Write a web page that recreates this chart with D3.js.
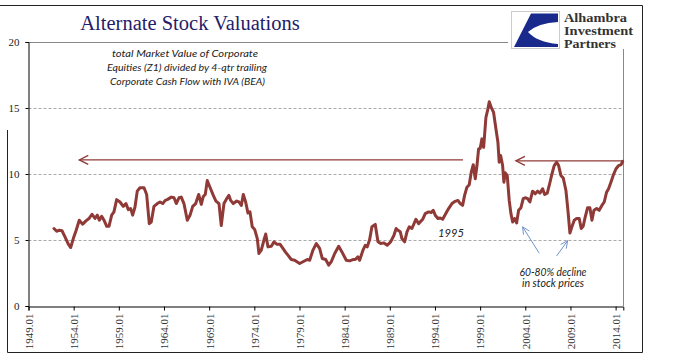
<!DOCTYPE html>
<html>
<head>
<meta charset="utf-8">
<script src="https://cdn.jsdelivr.net/npm/d3@7"></script>
<style>
  html, body { margin: 0; padding: 0; background: #fff; }
  svg { display: block; }
</style>
</head>
<body>
<div id="chart"></div>
<script>
// ---- data ----
const dates = [1951.82,1952.12,1952.41,1952.71,1953.04,1953.41,1953.67,1953.96,1954.26,1954.62,1955.0,1955.36,1955.73,1956.03,1956.36,1956.62,1956.84,1957.10,1957.36,1957.66,1957.91,1958.21,1958.46,1958.76,1959.13,1959.49,1959.79,1960.05,1960.31,1960.53,1960.79,1961.04,1961.34,1961.79,1962.08,1962.37,1962.59,1962.89,1963.26,1963.56,1963.86,1964.14,1964.36,1964.81,1965.11,1965.36,1965.66,1965.91,1966.21,1966.58,1966.88,1967.18,1967.51,1967.84,1968.13,1968.35,1968.57,1968.79,1969.09,1969.46,1969.75,1970.09,1970.34,1970.64,1970.94,1971.19,1971.38,1971.67,1972.05,1972.30,1972.56,1972.78,1973.04,1973.30,1973.52,1973.77,1974.04,1974.33,1974.51,1974.77,1975.07,1975.26,1975.51,1975.88,1976.18,1976.47,1976.84,1977.17,1977.43,1977.72,1978.09,1978.47,1978.72,1979.02,1979.39,1979.86,1980.13,1980.49,1980.86,1981.23,1981.52,1981.90,1982.23,1982.52,1982.90,1983.34,1983.70,1984.18,1984.55,1984.92,1985.18,1985.47,1985.66,1986.03,1986.28,1986.50,1986.77,1987.02,1987.39,1987.69,1987.99,1988.35,1988.72,1989.09,1989.46,1989.70,1989.90,1990.16,1990.34,1990.64,1990.90,1991.15,1991.45,1991.89,1992.19,1992.64,1992.92,1993.30,1993.59,1993.81,1994.03,1994.33,1994.58,1994.85,1995.14,1995.51,1995.88,1996.24,1996.54,1996.80,1997.06,1997.28,1997.54,1997.79,1998.02,1998.24,1998.46,1998.65,1998.83,1999.01,1999.20,1999.39,1999.64,1999.86,2000.01,2000.23,2000.49,2000.75,2000.97,2001.11,2001.27,2001.49,2001.63,2001.78,2002.0,2002.22,2002.41,2002.60,2002.82,2003.04,2003.26,2003.52,2003.77,2003.99,2004.26,2004.51,2004.81,2005.10,2005.36,2005.62,2005.92,2006.14,2006.43,2006.65,2006.95,2007.20,2007.47,2007.69,2007.94,2008.20,2008.50,2008.72,2008.94,2009.16,2009.42,2009.68,2009.97,2010.19,2010.41,2010.63,2010.90,2011.15,2011.38,2011.60,2011.90,2012.18,2012.48,2012.74,2013.0,2013.22,2013.48,2013.73,2014.03,2014.33,2014.62,2014.78];
const values = [5.87,5.66,5.74,5.70,5.24,4.68,4.43,5.11,5.70,6.50,6.20,6.45,6.65,6.95,6.63,6.88,6.50,6.80,6.50,6.04,6.04,6.88,7.13,8.06,7.88,7.55,7.76,7.30,7.38,6.88,7.50,8.70,8.96,8.96,8.45,6.24,6.36,7.55,7.76,7.88,7.76,8.00,8.06,8.25,8.20,7.76,8.20,8.25,7.76,6.50,6.87,7.55,7.76,8.45,7.70,8.30,8.45,9.50,9.00,8.38,7.95,7.76,6.10,7.76,8.13,8.38,8.00,7.76,7.95,7.88,7.62,8.45,7.88,7.04,7.13,6.00,5.80,5.11,3.98,4.23,5.00,5.45,4.48,4.53,4.86,4.68,4.68,4.36,4.10,3.85,3.52,3.47,3.35,3.22,3.35,3.52,3.47,4.23,4.73,4.36,3.60,3.52,3.10,3.35,3.98,4.53,4.10,3.47,3.42,3.52,3.52,3.72,3.47,4.23,4.60,4.48,5.04,6.00,6.18,4.86,4.73,4.78,4.60,4.86,5.36,5.87,5.74,5.62,5.11,4.86,5.62,6.00,5.87,6.57,6.24,6.57,7.00,7.13,7.08,7.25,6.88,6.63,6.67,6.57,6.93,7.38,7.76,7.93,8.00,7.76,7.62,8.38,9.00,9.18,10.14,10.70,9.64,10.64,11.90,11.95,12.66,12.02,14.28,14.92,15.47,15.04,14.66,13.41,12.40,10.89,11.40,10.64,9.38,10.09,9.89,8.00,7.00,6.36,6.62,6.29,7.25,7.45,8.13,8.20,8.13,7.88,8.70,8.50,8.70,8.55,8.88,8.45,8.55,9.13,10.00,10.64,10.89,10.64,9.89,9.70,8.75,7.25,5.53,6.00,6.50,6.62,6.62,5.87,6.04,6.74,7.45,7.45,6.50,7.25,7.38,7.25,7.62,7.88,8.62,8.88,9.38,9.89,10.38,10.64,10.72,10.96];
const tickYears = [1949,1954,1959,1964,1969,1974,1979,1984,1989,1994,1999,2004,2009,2014];
const tickLabels = ["1949.01","1954.01","1959.01","1964.01","1969.01","1974.01","1979.01","1984.01","1989.01","1994.01","1999.01","2004.01","2009.01","2014.01"];
const yTicks = [0,5,10,15,20];
const titleText = "Alternate Stock Valuations";
const noteLines = ["total Market Value of Corporate","Equities (Z1) divided by 4-qtr trailing","Corporate Cash Flow with IVA (BEA)"];
const logoLines = ["Alhambra","Investment","Partners"];
const declineLines = ["60-80% decline","in stock prices"];
const yearNote = "1995";

// ---- layout ----
const W = 675, H = 358;
const svg = d3.select("#chart").append("svg").attr("width", W).attr("height", H);

const x = d3.scaleLinear().domain([1949, 2014.85]).range([28.5, 623.3]);
const y = d3.scaleLinear().domain([0, 20]).range([306, 42]);

const RED = "#8f3a37";
const BLUE = "#7193c9";

// outer frame
const frame = svg.append("g").attr("stroke", "#222").attr("stroke-width", 1).attr("fill", "none");
frame.append("path").attr("d", "M0,5.5 H642.5 V352.5 H7.5 V130");

// gridlines
svg.append("g").selectAll("line").data(yTicks.filter(d => d > 0 && d < 20)).join("line")
  .attr("x1", x.range()[0]).attr("x2", x.range()[1])
  .attr("y1", d => Math.round(y(d)) + 0.5).attr("y2", d => Math.round(y(d)) + 0.5)
  .attr("stroke", "#aaa").attr("stroke-dasharray", "3,2").attr("stroke-width", 1);
// top solid line (20) and right border
svg.append("line").attr("x1", x.range()[0]).attr("x2", x.range()[1])
  .attr("y1", Math.round(y(20)) + 0.5).attr("y2", Math.round(y(20)) + 0.5).attr("stroke", "#888");
svg.append("line").attr("x1", 623.5).attr("x2", 623.5)
  .attr("y1", y(20)).attr("y2", y(0)).attr("stroke", "#888");

// y axis
const yAxis = d3.axisLeft(y).tickValues(yTicks).tickSize(3).tickFormat(d3.format("d"));
const ya = svg.append("g").attr("transform", "translate(28.5,0)").call(yAxis);
ya.select(".domain").attr("stroke", "#000");
ya.selectAll(".tick line").attr("stroke", "#000");
ya.selectAll("text").attr("font-family", "'Liberation Serif', serif").attr("font-size", 11)
  .attr("fill", "#222").attr("x", -9);

// x axis
const xAxis = d3.axisBottom(x).tickValues(tickYears).tickSize(4).tickFormat((d, i) => tickLabels[i]);
const xa = svg.append("g").attr("transform", "translate(0,306.5)").call(xAxis);
xa.select(".domain").attr("stroke", "#000");
xa.selectAll(".tick line").attr("stroke", "#000");
xa.selectAll("text")
  .attr("font-family", "'Liberation Serif', serif").attr("font-size", 11).attr("fill", "#333")
  .attr("transform", "rotate(-90)")
  .attr("text-anchor", "end")
  .attr("x", -7).attr("y", 0).attr("dy", "0.35em");

// data line
const line = d3.line().x((d, i) => x(dates[i])).y(d => y(d)).curve(d3.curveLinear);
svg.append("path").datum(values).attr("d", line)
  .attr("fill", "none").attr("stroke", RED).attr("stroke-width", 3)
  .attr("stroke-linejoin", "round").attr("stroke-linecap", "round");

// red arrows
function openArrow(g, x1, x2, yy, color) {
  g.append("line").attr("x1", x1).attr("x2", x2).attr("y1", yy).attr("y2", yy)
    .attr("stroke", color).attr("stroke-width", 1.3);
  g.append("path").attr("d", `M${x1 + 9},${yy - 4.5} L${x1},${yy} L${x1 + 9},${yy + 4.5}`)
    .attr("fill", "none").attr("stroke", color).attr("stroke-width", 1.3);
}
const ann = svg.append("g");
openArrow(ann, x(1954.62), x(1997.1), y(11.07), RED);
openArrow(ann, x(2002.96), x(2014.85), y(11.0), RED);

// blue arrows (tip first)
function slantArrow(g, tx, ty, sx, sy, color) {
  g.append("line").attr("x1", sx).attr("y1", sy).attr("x2", tx).attr("y2", ty)
    .attr("stroke", color).attr("stroke-width", 1);
  const ang = Math.atan2(sy - ty, sx - tx), L = 8, a = 0.45;
  const p1 = [tx + L * Math.cos(ang + a), ty + L * Math.sin(ang + a)];
  const p2 = [tx + L * Math.cos(ang - a), ty + L * Math.sin(ang - a)];
  g.append("path").attr("d", `M${p1[0]},${p1[1]} L${tx},${ty} L${p2[0]},${p2[1]}`)
    .attr("fill", "none").attr("stroke", color).attr("stroke-width", 1);
}
slantArrow(ann, x(2003.7), y(6.0), x(2005.54), y(4.0), BLUE);
slantArrow(ann, x(2008.69), y(4.95), x(2007.47), y(3.79), BLUE);

// texts
svg.append("text").attr("x", 190).attr("y", 30).attr("text-anchor", "middle")
  .attr("font-family", "'Liberation Serif', serif").attr("font-size", 20.5)
  .attr("fill", "#1f2069").text(titleText);

const noteY = [57, 71, 85], noteW = [146, 160, 155], noteX = [185, 187, 187.5];
svg.append("g").selectAll("text").data(noteLines).join("text")
  .attr("x", (d, i) => noteX[i]).attr("y", (d, i) => noteY[i]).attr("text-anchor", "middle")
  .attr("font-family", "Lato, 'Open Sans', sans-serif").attr("font-style", "italic")
  .attr("font-size", 10).attr("fill", "#222")
  .attr("textLength", (d, i) => noteW[i]).attr("lengthAdjust", "spacingAndGlyphs")
  .text(d => d);

svg.append("text").attr("x", 438).attr("y", 237)
  .attr("font-family", "Lato, 'Open Sans', sans-serif").attr("font-style", "italic")
  .attr("font-size", 12).attr("fill", "#222")
  .attr("textLength", 26).attr("lengthAdjust", "spacingAndGlyphs").text(yearNote);

const decY = [275.5, 287], decW = [67, 62];
svg.append("g").selectAll("text").data(declineLines).join("text")
  .attr("x", 553).attr("y", (d, i) => decY[i]).attr("text-anchor", "middle")
  .attr("font-family", "Lato, 'Open Sans', sans-serif").attr("font-style", "italic")
  .attr("font-size", 10.5).attr("fill", "#222")
  .attr("textLength", (d, i) => decW[i]).attr("lengthAdjust", "spacingAndGlyphs")
  .text(d => d);

// logo
const logo = svg.append("g");
logo.append("rect").attr("x", 508).attr("y", 8).attr("width", 132).attr("height", 41).attr("fill", "#fff");
logo.append("rect").attr("x", 511.5).attr("y", 11.5).attr("width", 48).attr("height", 37)
  .attr("fill", "#fff").attr("stroke", "#ccc").attr("stroke-width", 1);
logo.append("path")
  .attr("d", "M514,47 L531,13.5 L558,13.5 L558,22 Q538,23 528,32 Q537,42 558,44 L558,47 Z")
  .attr("fill", "#1a2a8c");
const logoW = [63, 69, 52];
logo.selectAll("text.l").data(logoLines).join("text").attr("class", "l")
  .attr("x", 564).attr("y", (d, i) => 22 + i * 12.8)
  .attr("font-family", "'Liberation Serif', serif").attr("font-size", 12.5).attr("fill", "#333")
  .attr("font-weight", "bold")
  .attr("textLength", (d, i) => logoW[i]).attr("lengthAdjust", "spacingAndGlyphs")
  .text(d => d);
</script>
</body>
</html>
